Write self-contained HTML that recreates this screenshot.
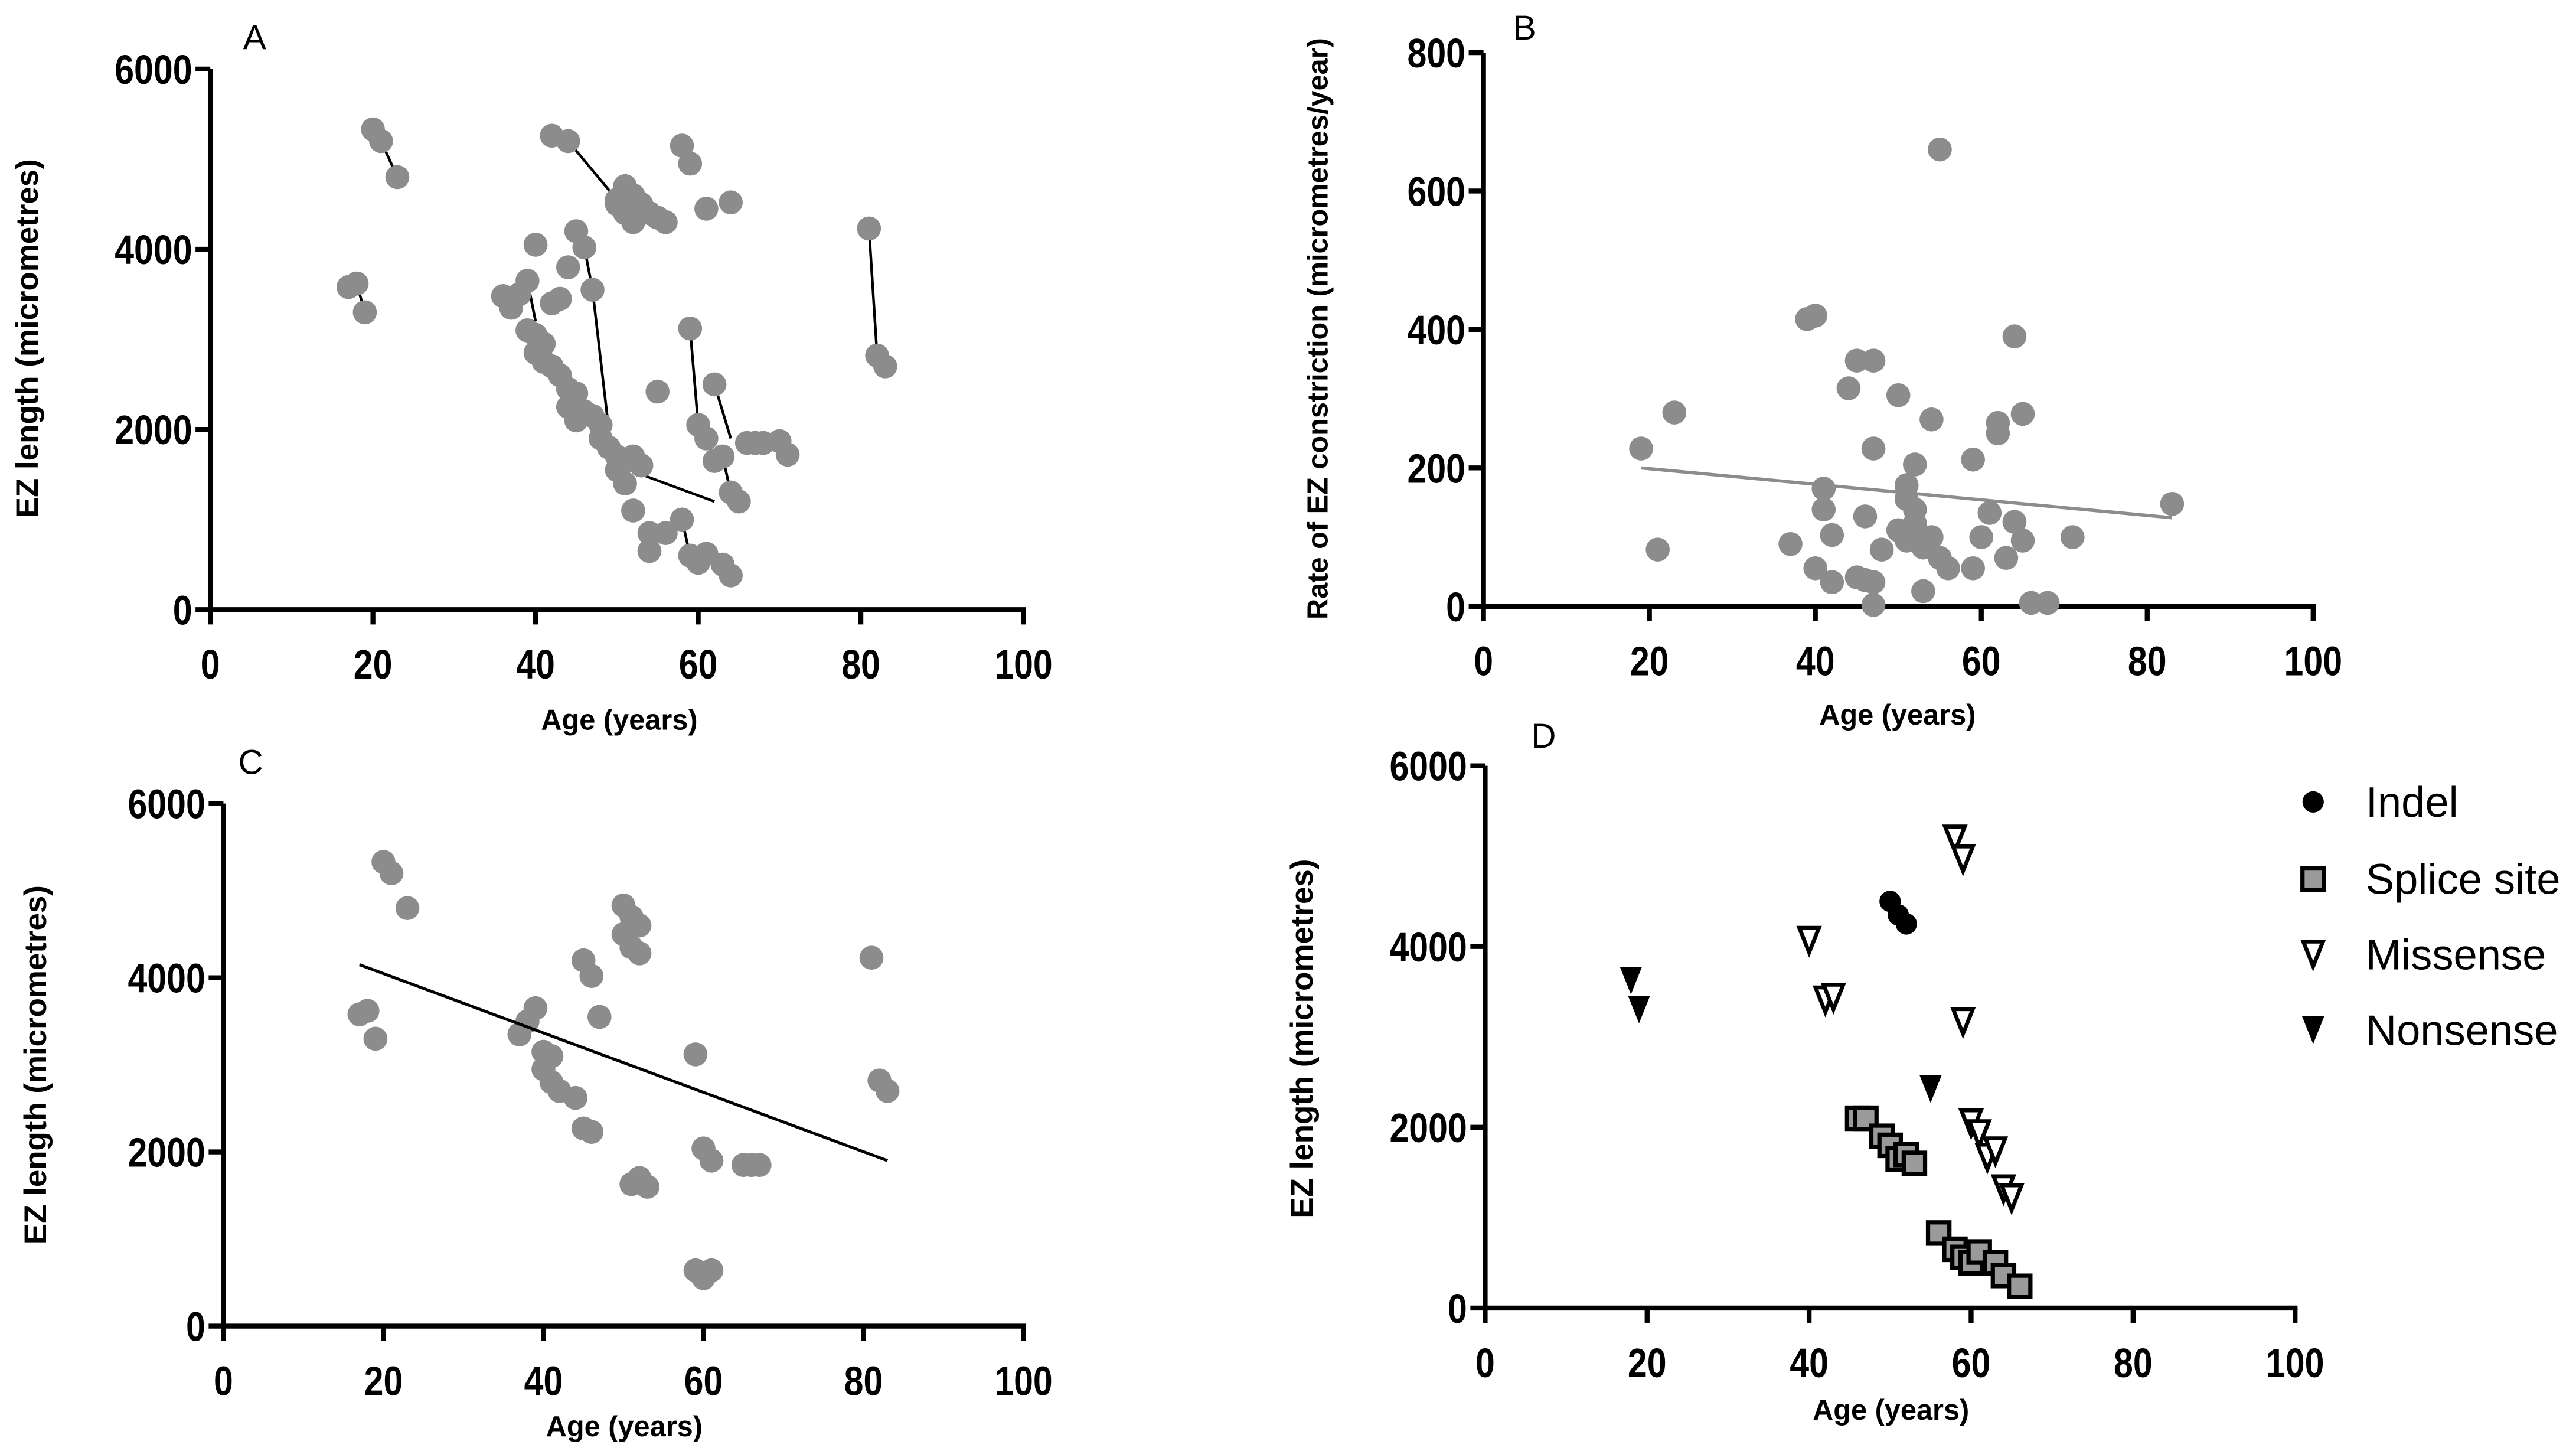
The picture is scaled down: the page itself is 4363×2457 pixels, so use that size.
<!DOCTYPE html>
<html><head><meta charset="utf-8"><style>
html,body{margin:0;padding:0;background:#fff}
svg{display:block}
.tk{font-family:"Liberation Sans Narrow","Liberation Sans",sans-serif;font-weight:bold;font-size:25px;fill:#000}
.ti{font-family:"Liberation Sans",sans-serif;font-weight:bold;font-size:17.5px;fill:#000}
.ty{font-family:"Liberation Sans",sans-serif;font-weight:bold;font-size:19px;fill:#000}
.tb{font-family:"Liberation Sans",sans-serif;font-weight:bold;font-size:17.5px;fill:#000}
.pl{font-family:"Liberation Sans Narrow","Liberation Sans",sans-serif;font-size:21px;fill:#000}
.lg{font-family:"Liberation Sans",sans-serif;font-size:26px;fill:#000}
</style></head><body>
<svg id="fig" xmlns="http://www.w3.org/2000/svg" width="4363" height="2457" viewBox="0 0 1568 883" preserveAspectRatio="none"></svg>
<script>
// Panel A data
const aX=[20,21,23,17,18,19,42,44,50,51,52,50,51,52,53,54,55,56,58,59,61,64,81,82,83,40,45,46,47,44,42,43,36,37,38,39,39,40,41,40,42,41,43,44,44,45,46,45,47,48,48,49,50,51,50,52,53,51,52,54,54,56,58,59,60,61,63,64,55,59,60,61,62,62,66,67,68,70,71,63,64,65];
const aY=[5330,5200,4800,3580,3620,3300,5260,5200,4550,4700,4600,4500,4400,4300,4500,4400,4350,4300,5150,4950,4450,4520,4230,2820,2700,4050,4200,4020,3550,3800,3400,3450,3480,3350,3500,3650,3100,3050,2950,2850,2700,2750,2600,2450,2250,2400,2200,2100,2150,2050,1900,1800,1700,1650,1550,1700,1600,1400,1100,850,650,850,1000,600,520,620,500,380,2420,3120,2050,1900,1650,2500,1850,1850,1850,1870,1720,1700,1300,1200];
const aLinkX1=[20,21,17,18,44,81,82,46,47,39,53,59,60,61,62,63,58];
const aLinkY1=[5330,5200,3580,3620,5200,4230,2820,4020,3550,3650,1500,3120,2050,1900,2500,1700,1000];
const aLinkX2=[21,23,18,19,50,82,83,47,49,40,62,60,61,62,64,64,59];
const aLinkY2=[5200,4800,3620,3300,4550,2820,2700,3550,2000,3200,1200,2050,1900,1650,1900,1300,600];
// Panel B data
const bX=[19,21,23,37,39,40,40,41,41,42,42,44,45,45,46,46,47,47,47,47,48,50,50,51,51,51,52,52,52,52,53,53,54,54,55,56,55,59,59,60,61,62,62,63,64,64,65,65,66,68,71,83];
const bY=[228,82,280,90,415,420,55,170,140,103,35,315,355,42,38,130,355,228,35,2,82,305,110,175,155,95,205,140,120,100,85,22,270,100,70,55,660,212,55,100,135,265,250,70,390,122,95,278,5,5,100,148];
const bFitX=[19,83];
const bFitY=[200,128];
// Panel C data
const cX=[17,18,19,20,21,23,37,38,39,40,41,40,41,42,44,45,46,45,46,47,50,51,52,50,51,52,51,52,53,59,60,61,65,66,67,59,60,61,81,82,83];
const cY=[3580,3620,3300,5330,5200,4800,3350,3500,3650,3150,3100,2950,2800,2700,2620,2270,2230,4200,4020,3550,4830,4700,4600,4500,4350,4280,1630,1700,1600,3120,2040,1900,1850,1850,1850,640,550,640,4230,2820,2700];
const cFitX=[17,83];
const cFitY=[4150,1900];
// Panel D data
const indelX=[50,51,52], indelY=[4500,4350,4250];
const spliceX=[46,47,49,50,51,52,53,56,58,59,60,61,63,64,66];
const spliceY=[2100,2100,1900,1800,1650,1700,1600,830,650,560,500,620,500,360,240];
const misX=[58,59,40,42,43,59,60,61,62,63,64,65];
const misY=[5200,4980,4080,3420,3450,3180,2060,1940,1680,1750,1330,1230];
const nonX=[18,19,55], nonY=[3640,3320,2440];
const xTicks=[0,20,40,60,80,100];
const yTicksEZ=[0,2000,4000,6000];
const yTicksB=[0,200,400,600,800];

const NS="http://www.w3.org/2000/svg";
const svg=document.getElementById('fig');
function mk(tag,attrs,parent){const e=document.createElementNS(NS,tag);for(const k in attrs)e.setAttribute(k,attrs[k]);(parent||svg).appendChild(e);return e;}
function tickText(g,x,y,s,anchor){
  const tx=mk('text',{x:x,y:y,'text-anchor':anchor,class:'tk',textLength:String(s).length*11.8,lengthAdjust:'spacingAndGlyphs'},g);
  tx.textContent=s;
  return tx;
}
function panel(name,x0,x1,y0,y1,ymax,yTicks){
  const g=mk('g',{});
  
  
  const sx=v=>x0+(x1-x0)*v/100, sy=v=>y0-(y0-y1)*v/ymax;
  const ax=mk('line',{x1:x0,y1:y0,x2:x1+1.5,y2:y0,stroke:'#000','stroke-width':3},g);
  
  
  const ay=mk('line',{x1:x0,y1:y0+1.5,x2:x0,y2:y1,stroke:'#000','stroke-width':3},g);
  
  
  xTicks.forEach(t=>{
    mk('line',{x1:sx(t),y1:y0,x2:sx(t),y2:y0+9,stroke:'#000','stroke-width':3},g);
    const tx=tickText(g,sx(t),y0+42,t,'middle');
    
    
  });
  yTicks.forEach(t=>{
    mk('line',{x1:x0-9,y1:sy(t),x2:x0,y2:sy(t),stroke:'#000','stroke-width':3},g);
    const tx=tickText(g,x0-11,sy(t)+9,t,'end');
    
    
  });
  return {g,sx,sy};
}
function dots(p,xs,ys,name){
  xs.forEach((x,i)=>{
    const c=mk('circle',{cx:p.sx(x),cy:p.sy(ys[i]),r:7.3,fill:'#8c8c8c'},p.g);
    
    
  });
}
function text(x,y,s,cls,name,rot){
  const t=mk('text',{x:x,y:y,class:cls,'text-anchor':(rot!==undefined||cls==='ti')?'middle':'start'});
  if(rot!==undefined)t.setAttribute('transform','rotate(-90 '+x+' '+y+')');
  t.textContent=s;
  
  
}
// A
const A=panel('panel-a',128,623,371,42,6000,yTicksEZ);
aLinkX1.forEach((x,i)=>{
  const l=mk('line',{x1:A.sx(x),y1:A.sy(aLinkY1[i]),x2:A.sx(aLinkX2[i]),y2:A.sy(aLinkY2[i]),stroke:'#000','stroke-width':1.6},A.g);
  
  
});
dots(A,aX,aY,'point-a');
text(148,30,'A','pl','panel-a-label');
text(377,444,'Age (years)','ti','x-axis-title-a');
text(23,206,'EZ length (micrometres)','ty','y-axis-title-a',1);
// B
const B=panel('panel-b',903,1408,369,32,800,yTicksB);
const bl=mk('line',{x1:B.sx(bFitX[0]),y1:B.sy(bFitY[0]),x2:B.sx(bFitX[1]),y2:B.sy(bFitY[1]),stroke:'#8c8c8c','stroke-width':2},B.g);


dots(B,bX,bY,'point-b');
text(921,24,'B','pl','panel-b-label');
text(1155,441,'Age (years)','ti','x-axis-title-b');
text(808,200,'Rate of EZ constriction (micrometres/year)','tb','y-axis-title-b',1);
// C
const C=panel('panel-c',136,623,807,489,6000,yTicksEZ);
dots(C,cX,cY,'point-c');
const cl=mk('line',{x1:C.sx(cFitX[0]),y1:C.sy(cFitY[0]),x2:C.sx(cFitX[1]),y2:C.sy(cFitY[1]),stroke:'#000','stroke-width':1.8},C.g);


text(145,471,'C','pl','panel-c-label');
text(380,874,'Age (years)','ti','x-axis-title-c');
text(28,648,'EZ length (micrometres)','ty','y-axis-title-c',1);
// D
const D=panel('panel-d',904,1397,796,466,6000,yTicksEZ);
text(932,455,'D','pl','panel-d-label');
text(1151,864,'Age (years)','ti','x-axis-title-d');
text(799,632,'EZ length (micrometres)','ty','y-axis-title-d',1);
function square(g,cx,cy,name){const s=mk('rect',{x:cx-6.5,y:cy-6.5,width:13,height:13,fill:'#9a9a9a',stroke:'#000','stroke-width':2.6},g);}
function tri(g,cx,cy,filled,name){const t=mk('polygon',{points:(cx-6)+','+(cy-7)+' '+(cx+6)+','+(cy-7)+' '+cx+','+(cy+8),fill:filled?'#000':'#fff',stroke:'#000','stroke-width':filled?1:2.4},g);}
function circ(g,cx,cy,name){const c=mk('circle',{cx:cx,cy:cy,r:6.5,fill:'#000'},g);}
spliceX.forEach((x,i)=>square(D.g,D.sx(x),D.sy(spliceY[i]),'splice-point'));
indelX.forEach((x,i)=>circ(D.g,D.sx(x),D.sy(indelY[i]),'indel-point'));
misX.forEach((x,i)=>tri(D.g,D.sx(x),D.sy(misY[i]),false,'missense-point'));
nonX.forEach((x,i)=>tri(D.g,D.sx(x),D.sy(nonY[i]),true,'nonsense-point'));
circ(svg,1408,488,'legend-indel-marker');
square(svg,1408,535,'legend-splice-marker');
tri(svg,1408,580,false,'legend-missense-marker');
tri(svg,1408,626,true,'legend-nonsense-marker');
text(1440,497,'Indel','lg','legend-indel');
text(1440,544,'Splice site','lg','legend-splice-site');
text(1440,590,'Missense','lg','legend-missense');
text(1440,636,'Nonsense','lg','legend-nonsense');
</script>
</body></html>
